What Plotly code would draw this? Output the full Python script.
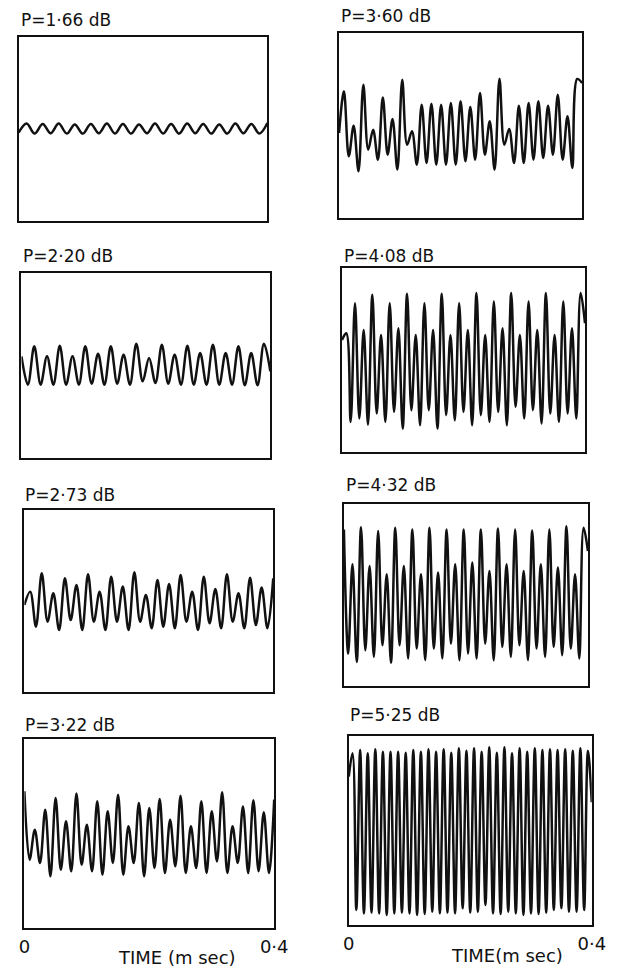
import numpy as np
import plotly.graph_objects as go

# Time span of every trace (ms)
T_END = 0.4

titles = ["P=1·66 dB", "P=3·60 dB", "P=2·20 dB", "P=4·08 dB",
          "P=2·73 dB", "P=4·32 dB", "P=3·22 dB", "P=5·25 dB"]

# Successive turning points (edge value, peaks/troughs, edge value) of each
# waveform, in units of the half-height of its frame.
p166 = [-0.04, 0.06, -0.05, 0.055, -0.045, 0.06, -0.05, 0.05, -0.05, 0.055,
        -0.045, 0.06, -0.05, 0.055, -0.05, 0.05, -0.045, 0.06, -0.05, 0.055,
        -0.05, 0.06, -0.045, 0.055, -0.05, 0.05, -0.05, 0.06, -0.045, 0.055,
        -0.05, 0.065]

p360 = [-0.081, 0.369, -0.333, -0.002, -0.495, 0.441, -0.261, -0.045, -0.369,
        0.304, -0.315, 0.070, -0.477, 0.495, -0.207, -0.063, -0.423, 0.225,
        -0.405, 0.236, -0.423, 0.225, -0.423, 0.243, -0.423, 0.261, -0.387,
        0.200, -0.369, 0.351, -0.315, 0.045, -0.477, 0.506, -0.207, -0.038,
        -0.405, 0.214, -0.405, 0.243, -0.369, 0.261, -0.351, 0.214, -0.315,
        0.333, -0.369, 0.099, -0.459, 0.503, 0.459]

p220 = [0.099, -0.207, 0.207, -0.207, 0.099, -0.207, 0.214, -0.207, 0.099,
        -0.207, 0.207, -0.196, 0.128, -0.207, 0.207, -0.196, 0.117, -0.207,
        0.236, -0.171, 0.081, -0.189, 0.225, -0.196, 0.117, -0.207, 0.214,
        -0.207, 0.135, -0.207, 0.225, -0.207, 0.135, -0.207, 0.207, -0.214,
        0.135, -0.214, 0.236, -0.063]

p408 = [0.218, 0.291, -0.673, 0.618, -0.636, 0.327, -0.702, 0.709, -0.582,
        0.273, -0.673, 0.618, -0.564, 0.345, -0.745, 0.720, -0.545, 0.273,
        -0.709, 0.618, -0.545, 0.327, -0.745, 0.720, -0.600, 0.273, -0.655,
        0.618, -0.564, 0.327, -0.709, 0.727, -0.600, 0.273, -0.673, 0.636,
        -0.564, 0.345, -0.709, 0.727, -0.509, 0.273, -0.636, 0.636, -0.545,
        0.327, -0.690, 0.727, -0.582, 0.273, -0.673, 0.636, -0.582, 0.345,
        -0.636, 0.727, 0.400]

p273 = [-0.044, 0.103, -0.282, 0.304, -0.227, 0.084, -0.319, 0.249, -0.209,
        0.176, -0.319, 0.293, -0.227, 0.103, -0.319, 0.267, -0.227, 0.158,
        -0.319, 0.315, -0.227, 0.066, -0.300, 0.231, -0.282, 0.187, -0.300,
        0.286, -0.227, 0.103, -0.319, 0.267, -0.245, 0.132, -0.300, 0.293,
        -0.227, 0.084, -0.300, 0.256, -0.264, 0.147, -0.300, 0.249]

p432 = [0.720, -0.644, 0.338, -0.735, 0.745, -0.607, 0.320, -0.680, 0.702,
        -0.553, 0.229, -0.745, 0.738, -0.553, 0.320, -0.698, 0.720, -0.589,
        0.229, -0.716, 0.738, -0.589, 0.247, -0.698, 0.720, -0.535, 0.338,
        -0.716, 0.720, -0.644, 0.356, -0.698, 0.720, -0.535, 0.265, -0.716,
        0.731, -0.571, 0.338, -0.680, 0.720, -0.553, 0.265, -0.716, 0.709,
        -0.589, 0.338, -0.680, 0.720, -0.571, 0.302, -0.662, 0.756, -0.589,
        0.229, -0.698, 0.738, 0.484]

p322 = [0.446, -0.277, 0.041, -0.312, 0.252, -0.453, 0.376, -0.383, 0.129,
        -0.400, 0.422, -0.330, 0.093, -0.400, 0.340, -0.436, 0.235, -0.312,
        0.411, -0.436, 0.076, -0.312, 0.323, -0.453, 0.270, -0.365, 0.365,
        -0.418, 0.146, -0.347, 0.400, -0.418, 0.076, -0.365, 0.340, -0.418,
        0.235, -0.295, 0.436, -0.418, 0.076, -0.312, 0.287, -0.418, 0.351,
        -0.400, 0.224, -0.418, 0.358]

p525 = [0.570, 0.817, -0.841, 0.852, -0.877, 0.817, -0.869, 0.859, -0.877,
        0.834, -0.894, 0.834, -0.877, 0.834, -0.869, 0.824, -0.877, 0.852,
        -0.894, 0.834, -0.884, 0.859, -0.859, 0.834, -0.877, 0.859, -0.869,
        0.824, -0.877, 0.870, -0.824, 0.845, -0.869, 0.870, -0.859, 0.834,
        -0.788, 0.880, -0.877, 0.824, -0.884, 0.880, -0.859, 0.817, -0.877,
        0.870, -0.894, 0.834, -0.877, 0.870, -0.884, 0.852, -0.869, 0.859,
        -0.841, 0.852, -0.824, 0.859, -0.859, 0.845, -0.859, 0.870, -0.841,
        0.845, 0.300]

x_ticks = [0, 0.4]
x_tick_text = ["0", "0·4"]
x_title_left = "TIME (m sec)"
x_title_right = "TIME(m sec)"

series = [p166, p360, p220, p408, p273, p432, p322, p525]

W, H = 629, 969
# Frame boxes in pixels: (left, top, right, bottom)
boxes = [(13, 37, 270, 221), (344, 33, 595, 218),
         (16, 273, 273, 458), (347, 268, 598, 452),
         (19, 510, 276, 692), (349, 504, 601, 686),
         (19, 739, 277, 928), (354, 736, 605, 925)]
# Title anchor points (left x, middle y)
title_pos = [(13, 20), (344, 16), (16, 256), (347, 256),
             (18, 495), (349, 485), (18, 725), (353, 715)]

INK = "#111111"
FONT = "DejaVu Sans"

fig = go.Figure()
layout = dict(width=W, height=H, margin=dict(l=0, r=0, t=0, b=0),
              paper_bgcolor="white", plot_bgcolor="white", showlegend=False)
annotations = []

for i, (vals, box, title, tpos) in enumerate(zip(series, boxes, titles, title_pos)):
    k = "" if i == 0 else str(i + 1)
    t = np.linspace(0, T_END, len(vals))
    fig.add_trace(go.Scatter(x=t, y=vals, mode="lines",
                             line=dict(color=INK, width=2.5, shape="spline", smoothing=1.0),
                             xaxis="x" + k, yaxis="y" + k, hoverinfo="skip"))
    x0, y0, x1, y1 = box
    bottom_row = i >= 6
    layout["xaxis" + k] = dict(
        domain=[x0 / W, x1 / W], range=[0, T_END], anchor="y" + k,
        showgrid=False, zeroline=False, showline=True, mirror=True,
        linecolor=INK, linewidth=2, ticks="",
        showticklabels=bottom_row, tickvals=x_ticks, ticktext=x_tick_text,
        tickfont=dict(family=FONT, size=18, color=INK), ticklabelstandoff=1)
    layout["yaxis" + k] = dict(
        domain=[1 - y1 / H, 1 - y0 / H], range=[-1, 1], anchor="x" + k,
        showgrid=False, zeroline=False, showline=True, mirror=True,
        linecolor=INK, linewidth=2, ticks="", showticklabels=False)
    annotations.append(dict(text=title, x=tpos[0] / W, y=1 - tpos[1] / H,
                            xref="paper", yref="paper", xanchor="left", yanchor="middle",
                            showarrow=False, font=dict(family=FONT, size=17, color=INK)))

annotations.append(dict(text=x_title_left, x=177 / W, y=1 - 957 / H, xref="paper", yref="paper",
                        xanchor="center", yanchor="middle", showarrow=False,
                        font=dict(family=FONT, size=18, color=INK)))
annotations.append(dict(text=x_title_right, x=517 / W, y=1 - 955 / H, xref="paper", yref="paper",
                        xanchor="center", yanchor="middle", showarrow=False,
                        font=dict(family=FONT, size=18, color=INK)))

layout["annotations"] = annotations
fig.update_layout(**layout)
fig.write_html("out.html")
